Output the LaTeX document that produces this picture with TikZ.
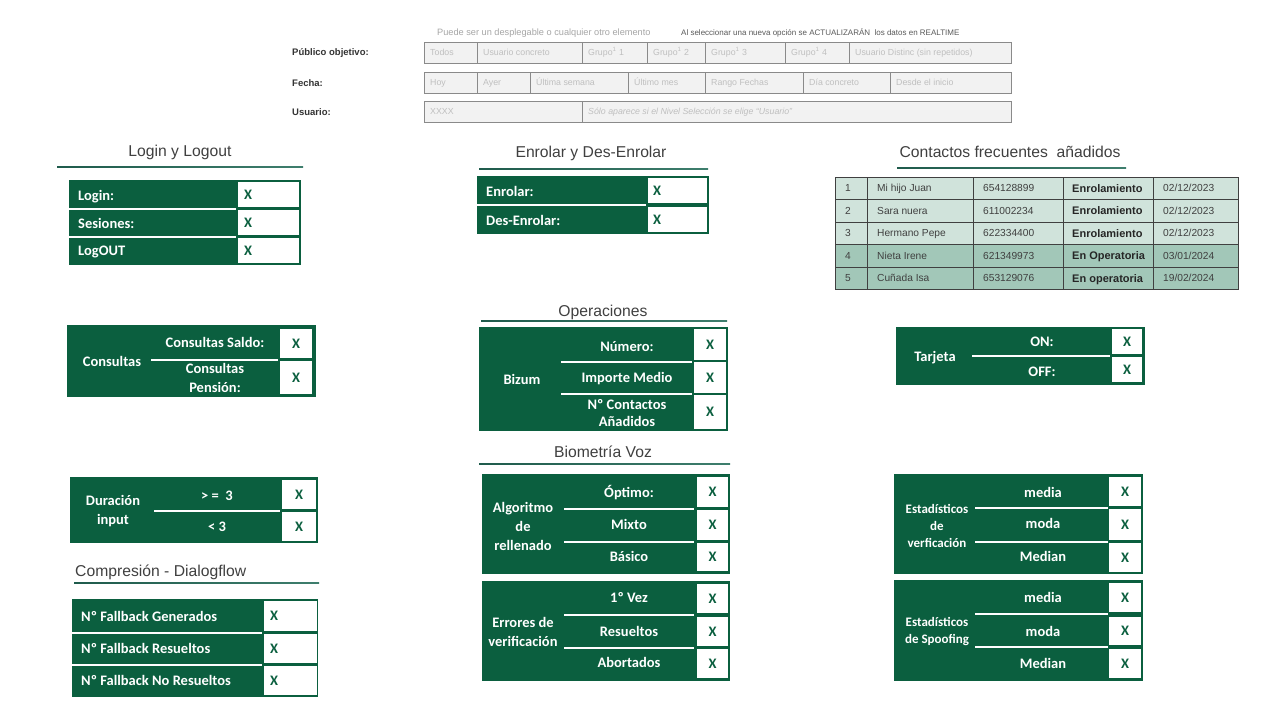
\documentclass[tikz,border=0pt]{standalone}
\usepackage{fontspec}
\setmainfont{Liberation Sans}
\newfontfamily\calfont{Carlito}

\definecolor{pgreen}{HTML}{0B5F3F}
\definecolor{ttlgray}{HTML}{404040}
\definecolor{cellfill}{HTML}{F2F2F2}
\definecolor{cellline}{HTML}{8A8A8A}
\definecolor{celltext}{HTML}{BFBFBF}
\definecolor{notegray}{HTML}{A6A6A6}
\definecolor{notedark}{HTML}{595959}
\definecolor{rowlight}{HTML}{D0E3DB}
\definecolor{rowdark}{HTML}{A2C7B8}
\definecolor{gridline}{HTML}{404040}
\definecolor{tabtext}{HTML}{404040}
\definecolor{uldark}{HTML}{1F5B4C}
\definecolor{ulmid}{HTML}{8DB1A6}
\definecolor{ulright}{HTML}{3E7E6D}

% box from top-left (#2,#3) to bottom-right (#4,#5)
\newcommand\mkcell[7]{%
  \pgfmathsetmacro\cw{#4-#2}\pgfmathsetmacro\ch{#5-#3}%
  \node[#6, anchor=north west, minimum width=\cw pt, minimum height=\ch pt] (#1) at (#2,#3) {#7};}
% grey filter cell: name, x1, x2, y1, y2, text
\newcommand\fcell[6]{%
  \mkcell{#1}{#2}{#4}{#3}{#5}{fbox}{}%
  \node[ftext] (#1t) at ([xshift=6pt]#1.west) {#6};}
% section underline: x1, x2, y
\newcommand\uline[3]{%
  \shade[left color=uldark, middle color=ulmid, right color=ulright] (#1,#3-0.7) rectangle (#2,#3+0.7);}
% contacts table row: index, number, name, phone, status, date, fill
\newcommand\trow[7]{%
  \pgfmathsetmacro\ya{177+#1*22.5}\pgfmathsetmacro\yb{\ya+22.5}%
  \mkcell{t#1a}{835}{\ya}{867}{\yb}{tbox,fill=#7}{}%
  \mkcell{t#1b}{867}{\ya}{973}{\yb}{tbox,fill=#7}{}%
  \mkcell{t#1c}{973}{\ya}{1063}{\yb}{tbox,fill=#7}{}%
  \mkcell{t#1d}{1063}{\ya}{1153}{\yb}{tbox,fill=#7}{}%
  \mkcell{t#1e}{1153}{\ya}{1238}{\yb}{tbox,fill=#7}{}%
  \node[ttext] (t#1at) at ([xshift=10pt]t#1a.west) {#2};%
  \node[ttext] (t#1bt) at ([xshift=10pt]t#1b.west) {#3};%
  \node[ttext] (t#1ct) at ([xshift=10pt]t#1c.west) {#4};%
  \node[tstat] (t#1dt) at ([xshift=9pt]t#1d.west) {#5};%
  \node[ttext] (t#1et) at ([xshift=10pt]t#1e.west) {#6};}

\begin{document}
\begin{tikzpicture}[x=1pt, y=-1pt,
  panel/.style={fill=pgreen, inner sep=0pt, outer sep=0pt},
  xcell/.style={fill=white, inner sep=0pt, outer sep=0pt, text=pgreen,
    text height=9.3pt, text depth=0pt,
    font=\calfont\bfseries\fontsize{14.5}{16}\selectfont},
  xmark/.style={text=pgreen, inner sep=0pt, anchor=west, text height=9.3pt, text depth=0pt,
    font=\calfont\bfseries\fontsize{14.5}{16}\selectfont},
  wlab/.style={text=white, inner sep=0pt, align=center,
    font=\calfont\bfseries\fontsize{14.5}{19}\selectfont},
  wone/.style={wlab, text height=9.3pt, text depth=0pt},
  wsmall/.style={wlab, font=\calfont\bfseries\fontsize{13}{17}\selectfont},
  sep/.style={draw=white, line width=2pt},
  sectitle/.style={text=ttlgray, inner sep=0pt, text height=11.2pt, text depth=0pt,
    font=\fontsize{15.7}{18}\selectfont},
  fbox/.style={fill=cellfill, draw=cellline, line width=1pt, inner sep=0pt, outer sep=0pt},
  ftext/.style={text=celltext, inner sep=0pt, anchor=west, text height=6.3pt, text depth=0pt,
    font=\fontsize{8.8}{10}\selectfont},
  flabel/.style={text=black!80, inner sep=0pt, anchor=west, text height=6.8pt, text depth=0pt,
    font=\bfseries\fontsize{9.5}{11}\selectfont},
  note/.style={inner sep=0pt, anchor=west, text height=6.2pt, text depth=0pt},
  tbox/.style={draw=gridline, line width=0.8pt, inner sep=0pt, outer sep=0pt},
  ttext/.style={text=tabtext, inner sep=0pt, anchor=west, text height=7.2pt, text depth=0pt,
    font=\fontsize{10.2}{12}\selectfont},
  tstat/.style={text=black!85, inner sep=0pt, anchor=west, text height=7.6pt, text depth=0pt,
    font=\bfseries\fontsize{11}{12}\selectfont},
]
\useasboundingbox[fill=white] (0,0) rectangle (1280,720);

% ---------- filters ----------
\node[note, text=notegray, font=\fontsize{9.2}{10}\selectfont] (n1) at (437,32)
  {Puede ser un desplegable o cualquier otro elemento};
\node[note, text=notedark, font=\fontsize{8}{10}\selectfont] (n2) at (681,32)
  {Al seleccionar una nueva opción se ACTUALIZARÁN\ \ los datos en REALTIME};

\node[flabel] (lp) at (292,52) {Público objetivo:};
\node[flabel] (lf) at (292,83) {Fecha:};
\node[flabel] (lu) at (292,112) {Usuario:};

\fcell{f1a}{424}{477}{42}{63}{Todos}
\fcell{f1b}{477}{582}{42}{63}{Usuario concreto}
\fcell{f1c}{582}{647}{42}{63}{Grupo\textsuperscript{1} 1}
\fcell{f1d}{647}{705}{42}{63}{Grupo\textsuperscript{1} 2}
\fcell{f1e}{705}{785}{42}{63}{Grupo\textsuperscript{1} 3}
\fcell{f1f}{785}{849}{42}{63}{Grupo\textsuperscript{1} 4}
\fcell{f1g}{849}{1011}{42}{63}{Usuario Distinc (sin repetidos)}

\fcell{f2a}{424}{477}{72}{93}{Hoy}
\fcell{f2b}{477}{530}{72}{93}{Ayer}
\fcell{f2c}{530}{628}{72}{93}{Última semana}
\fcell{f2d}{628}{705}{72}{93}{Último mes}
\fcell{f2e}{705}{803}{72}{93}{Rango Fechas}
\fcell{f2f}{803}{890}{72}{93}{Día concreto}
\fcell{f2g}{890}{1011}{72}{93}{Desde el inicio}

\fcell{f3a}{424}{582}{101}{122}{XXXX}
\fcell{f3b}{582}{1011}{101}{122}{\itshape Sólo aparece si el Nivel Selección se elige “Usuario”}

% ---------- Login y Logout ----------
\node[sectitle] (lgt) at (180,151) {Login y Logout};
\uline{57}{303}{167}
\mkcell{lgp}{69}{180}{301}{265}{panel}{}
\mkcell{lgx1}{238}{182}{299}{207}{xcell}{}
\mkcell{lgx2}{238}{210}{299}{235}{xcell}{}
\mkcell{lgx3}{238}{238}{299}{263}{xcell}{}
\node[xmark] (lgm1) at ([xshift=6pt]lgx1.west) {X};
\node[xmark] (lgm2) at ([xshift=6pt]lgx2.west) {X};
\node[xmark] (lgm3) at ([xshift=6pt]lgx3.west) {X};
\node[wone, anchor=west] (lgl1) at (78,196) {Login:};
\node[wone, anchor=west] (lgl2) at (78,224) {Sesiones:};
\node[wone, anchor=west] (lgl3) at (78,251) {LogOUT};
\draw[sep] (69,208.5) -- (236,208.5);
\draw[sep] (69,236.5) -- (236,236.5);

% ---------- Enrolar y Des-Enrolar ----------
\node[sectitle] (ent) at (591,152) {Enrolar y Des-Enrolar};
\uline{479}{708}{169}
\mkcell{enp}{477}{176}{709}{234}{panel}{}
\mkcell{enx1}{648}{178}{707}{203}{xcell}{}
\mkcell{enx2}{648}{207}{707}{232}{xcell}{}
\node[xmark] (enm1) at ([xshift=5pt]enx1.west) {X};
\node[xmark] (enm2) at ([xshift=5pt]enx2.west) {X};
\node[wone, anchor=west] (enl1) at (486,192) {Enrolar:};
\node[wone, anchor=west] (enl2) at (486,221) {Des-Enrolar:};
\draw[sep] (477,205) -- (646,205);

% ---------- Contactos frecuentes ----------
\node[sectitle] (cft) at (1010,152) {Contactos frecuentes\ \ añadidos};
\uline{897}{1126}{168}
\trow{0}{1}{Mi hijo Juan}{654128899}{Enrolamiento}{02/12/2023}{rowlight}
\trow{1}{2}{Sara nuera}{611002234}{Enrolamiento}{02/12/2023}{rowlight}
\trow{2}{3}{Hermano Pepe}{622334400}{Enrolamiento}{02/12/2023}{rowlight}
\trow{3}{4}{Nieta Irene}{621349973}{En Operatoria}{03/01/2024}{rowdark}
\trow{4}{5}{Cuñada Isa}{653129076}{En operatoria}{19/02/2024}{rowdark}

% ---------- Consultas ----------
\mkcell{cop}{67}{325}{316}{397}{panel}{}
\mkcell{cox1}{280}{329}{312}{358}{xcell}{X}
\mkcell{cox2}{280}{361}{312}{394}{xcell}{X}
\node[wone] (col) at (112,362) {Consultas};
\node[wone] (cos1) at (215,343) {Consultas Saldo:};
\node[wlab] (cos2) at (215,377.5) {Consultas\\Pensión:};
\draw[sep] (151,359.5) -- (278,359.5);

% ---------- Operaciones ----------
\node[sectitle] (opt) at (603,311) {Operaciones};
\uline{481}{727}{321}
\mkcell{opp}{479}{327}{728}{431}{panel}{}
\mkcell{opx1}{694}{329}{726}{360}{xcell}{X}
\mkcell{opx2}{694}{362}{726}{393}{xcell}{X}
\mkcell{opx3}{694}{395}{726}{429}{xcell}{X}
\node[wone] (opl) at (522,380) {Bizum};
\node[wone] (ops1) at (627,347) {Número:};
\node[wone] (ops2) at (627,378) {Importe Medio};
\node[wlab, font=\calfont\bfseries\fontsize{14.5}{17}\selectfont] (ops3) at (627,413) {Nº Contactos\\Añadidos};
\draw[sep] (561,361.5) -- (692,361.5);
\draw[sep] (561,394) -- (692,394);

% ---------- Tarjeta ----------
\mkcell{tjp}{896}{327}{1145}{385}{panel}{}
\mkcell{tjx1}{1112}{329}{1142}{354}{xcell}{X}
\mkcell{tjx2}{1112}{357}{1142}{382}{xcell}{X}
\node[wone] (tjl) at (935,357) {Tarjeta};
\node[wone] (tjs1) at (1042,342) {ON:};
\node[wone] (tjs2) at (1042,372) {OFF:};
\draw[sep] (972,355.5) -- (1110,355.5);

% ---------- Duración input ----------
\mkcell{dup}{70}{477}{318}{543}{panel}{}
\mkcell{dux1}{282}{480}{316}{509}{xcell}{X}
\mkcell{dux2}{282}{512}{316}{541}{xcell}{X}
\node[wlab] (dul) at (113,511.5) {Duración\\input};
\node[wone] (dus1) at (217,496) {> =\ \ 3};
\node[wone] (dus2) at (217,527) {< 3};
\draw[sep] (154,511) -- (280,511);

% ---------- Compresión - Dialogflow ----------
\node[sectitle, anchor=west] (dft) at (75,571) {Compresión - Dialogflow};
\uline{74}{319}{583}
\mkcell{dfp}{72}{599}{318}{697}{panel}{}
\mkcell{dfx1}{264}{601}{317}{631}{xcell}{}
\mkcell{dfx2}{264}{634}{317}{663}{xcell}{}
\mkcell{dfx3}{264}{666}{317}{695}{xcell}{}
\node[xmark] (dfm1) at ([xshift=6pt]dfx1.west) {X};
\node[xmark] (dfm2) at ([xshift=6pt]dfx2.west) {X};
\node[xmark] (dfm3) at ([xshift=6pt]dfx3.west) {X};
\node[wone, anchor=west] (dfl1) at (81,617) {Nº Fallback Generados};
\node[wone, anchor=west] (dfl2) at (81,649) {Nº Fallback Resueltos};
\node[wone, anchor=west] (dfl3) at (81,681) {Nº Fallback No Resueltos};
\draw[sep] (72,632.5) -- (262,632.5);
\draw[sep] (72,664.5) -- (262,664.5);

% ---------- Biometría Voz ----------
\node[sectitle] (bvt) at (603,452) {Biometría Voz};
\uline{479}{730}{464}
\mkcell{bap}{482}{474}{730}{574}{panel}{}
\mkcell{bax1}{697}{477}{728}{507}{xcell}{X}
\mkcell{bax2}{697}{510}{728}{540}{xcell}{X}
\mkcell{bax3}{697}{543}{728}{571}{xcell}{X}
\node[wlab] (bal) at (523,526) {Algoritmo\\de\\rellenado};
\node[wone] (bas1) at (629,493) {Óptimo:};
\node[wone] (bas2) at (629,525) {Mixto};
\node[wone] (bas3) at (629,557) {Básico};
\draw[sep] (564,508.5) -- (694,508.5);
\draw[sep] (564,541.5) -- (694,541.5);

\mkcell{bep}{482}{581}{730}{681}{panel}{}
\mkcell{bex1}{697}{584}{728}{613}{xcell}{X}
\mkcell{bex2}{697}{617}{728}{646}{xcell}{X}
\mkcell{bex3}{697}{649}{728}{678}{xcell}{X}
\node[wlab] (bel) at (523,632) {Errores de\\verificación};
\node[wone] (bes1) at (629,598) {1º Vez};
\node[wone] (bes2) at (629,632) {Resueltos};
\node[wone] (bes3) at (629,663) {Abortados};
\draw[sep] (564,615) -- (694,615);
\draw[sep] (564,647.5) -- (694,647.5);

% ---------- Estadísticos ----------
\mkcell{svp}{894}{474}{1143}{574}{panel}{}
\mkcell{svx1}{1109}{477}{1141}{506}{xcell}{X}
\mkcell{svx2}{1109}{509}{1141}{540}{xcell}{X}
\mkcell{svx3}{1109}{543}{1141}{572}{xcell}{X}
\node[wsmall] (svl) at (937,525.5) {Estadísticos\\de\\verficación};
\node[wone] (svs1) at (1043,493) {media};
\node[wone] (svs2) at (1043,524) {moda};
\node[wone] (svs3) at (1043,557) {Median};
\draw[sep] (975,507.5) -- (1108,507.5);
\draw[sep] (975,541.5) -- (1108,541.5);

\mkcell{ssp}{894}{580}{1143}{681}{panel}{}
\mkcell{ssx1}{1109}{583}{1141}{612}{xcell}{X}
\mkcell{ssx2}{1109}{617}{1141}{645}{xcell}{X}
\mkcell{ssx3}{1109}{649}{1141}{678}{xcell}{X}
\node[wsmall] (ssl) at (937,631.5) {Estadísticos\\de Spoofing};
\node[wone] (sss1) at (1043,598) {media};
\node[wone] (sss2) at (1043,632) {moda};
\node[wone] (sss3) at (1043,664) {Median};
\draw[sep] (975,614) -- (1108,614);
\draw[sep] (975,647) -- (1108,647);
\end{tikzpicture}
\end{document}
